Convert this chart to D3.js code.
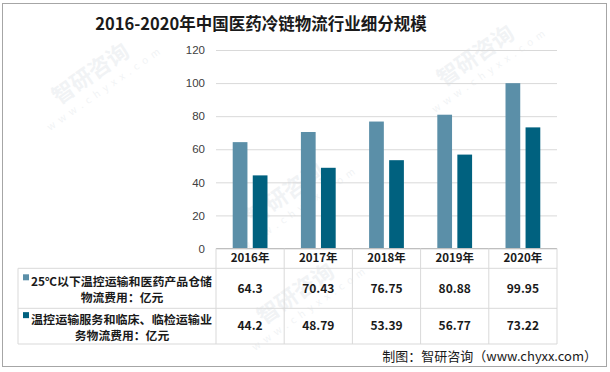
<!DOCTYPE html>
<html>
<head>
<meta charset="utf-8">
<script src="https://cdn.jsdelivr.net/npm/d3@7"></script>
<style>
  body { margin: 0; background: #fff; }
  text { font-family: "Noto Sans CJK SC", "Noto Sans", sans-serif; }
</style>
</head>
<body>
<div id="chart"></div>
<script>
// data
var years = ["2016年", "2017年", "2018年", "2019年", "2020年"];
var seriesNames = ["25℃以下温控运输和医药产品仓储物流费用：亿元", "温控运输服务和临床、临检运输业务物流费用：亿元"];
var storage = [64.3, 70.43, 76.75, 80.88, 99.95];
var transport = [44.2, 48.79, 53.39, 56.77, 73.22];
var valueLabels = [["64.3", "70.43", "76.75", "80.88", "99.95"], ["44.2", "48.79", "53.39", "56.77", "73.22"]];
var rowLines = [["25℃以下温控运输和医药产品仓储", "物流费用：亿元"], ["温控运输服务和临床、临检运输业", "务物流费用：亿元"]];
var yTicks = [0, 20, 40, 60, 80, 100, 120];

var colors = ["#5b8fa8", "#00617f"];
var svgWidth = 610, svgHeight = 372;

var plot = { left: 216, right: 557, top: 50, bottom: 248.5 };
var table = { left: 18, header: 268.3, row1: 308.3, bottom: 344 };

var svg = d3.select("#chart").append("svg")
    .attr("width", svgWidth)
    .attr("height", svgHeight);

// outer frame
svg.append("rect")
    .attr("x", 2.5).attr("y", 3.5)
    .attr("width", 604).attr("height", 363)
    .attr("fill", "#fff").attr("stroke", "#a6a6a6");

// faint watermarks
var marks = [[95, 80], [290, 200], [480, 62], [300, 300]];
marks.forEach(function(m) {
    var g = svg.append("g")
        .attr("transform", "translate(" + m[0] + "," + m[1] + ") rotate(-35)")
        .attr("opacity", 0.09);
    g.append("text").attr("x", 0).attr("y", 0)
        .attr("text-anchor", "middle")
        .attr("font-size", 22).attr("font-weight", "bold")
        .attr("fill", "#6a7f95").text("智研咨询");
    g.append("text").attr("x", 4).attr("y", 16)
        .attr("text-anchor", "middle")
        .attr("font-size", 10).attr("letter-spacing", 5)
        .attr("fill", "#6a7f95").text("www.chyxx.com");
});

// title
svg.append("text")
    .attr("x", 261).attr("y", 30)
    .attr("text-anchor", "middle")
    .attr("font-size", 16.5).attr("font-weight", "bold")
    .attr("fill", "#1a1a1a")
    .text("2016-2020年中国医药冷链物流行业细分规模");

var y = d3.scaleLinear().domain([0, 120]).range([plot.bottom, plot.top]);

var x0 = d3.scaleBand().domain(years)
    .range([plot.left, plot.right])
    .paddingInner(0.49).paddingOuter(0.245);

var x1 = d3.scaleBand().domain([0, 1])
    .range([0, x0.bandwidth()])
    .paddingInner(0.265);

// y axis with gridlines
var yAxis = svg.append("g")
    .attr("transform", "translate(" + plot.left + ",0)")
    .call(d3.axisLeft(y).tickValues(yTicks)
        .tickSize(-(plot.right - plot.left)).tickPadding(11));
yAxis.select(".domain").remove();
yAxis.selectAll(".tick line").attr("stroke", "#d9d9d9");
yAxis.selectAll(".tick text")
    .attr("font-size", 11.5).attr("fill", "#404040")
    .style("font-family", "'Liberation Sans', Arial, sans-serif");

// bars
var rows = years.map(function(yr, i) { return { year: yr, vals: [storage[i], transport[i]] }; });

var groups = svg.selectAll(".grp").data(rows).enter().append("g")
    .attr("class", "grp")
    .attr("transform", function(d) { return "translate(" + x0(d.year) + ",0)"; });

groups.selectAll("rect").data(function(d) { return d.vals; }).enter().append("rect")
    .attr("x", function(d, i) { return x1(i); })
    .attr("width", x1.bandwidth())
    .attr("y", function(d) { return y(d); })
    .attr("height", function(d) { return y(0) - y(d); })
    .attr("fill", function(d, i) { return colors[i]; });

// data table
var step = x0.step();
var colEdges = d3.range(years.length + 1).map(function(i) { return plot.left + i * step; });
var lineColor = "#d9d9d9";

function hline(x1_, x2_, yy, c) {
    svg.append("line").attr("x1", x1_).attr("x2", x2_)
        .attr("y1", yy).attr("y2", yy).attr("stroke", c || lineColor);
}
function vline(xx, y1_, y2_) {
    svg.append("line").attr("x1", xx).attr("x2", xx)
        .attr("y1", y1_).attr("y2", y2_).attr("stroke", lineColor);
}

hline(plot.left, plot.right, plot.bottom, "#bfbfbf");
hline(table.left, plot.right, table.header);
hline(table.left, plot.right, table.row1);
hline(table.left, plot.right, table.bottom);
colEdges.forEach(function(xx) { vline(xx, plot.bottom, table.bottom); });
vline(table.left, table.header, table.bottom);

// header years
svg.selectAll(".hdr").data(years).enter().append("text")
    .attr("x", function(d) { return x0(d) + x0.bandwidth() / 2; })
    .attr("y", (plot.bottom + table.header) / 2)
    .attr("dy", "0.35em")
    .attr("text-anchor", "middle")
    .attr("font-size", 11.5).attr("font-weight", "bold")
    .attr("fill", "#1a1a1a")
    .text(function(d) { return d; });

// values
var rowTops = [table.header, table.row1];
var rowBots = [table.row1, table.bottom];
valueLabels.forEach(function(vals, r) {
    svg.selectAll(".val" + r).data(vals).enter().append("text")
        .attr("x", function(d, i) { return x0(years[i]) + x0.bandwidth() / 2; })
        .attr("y", (rowTops[r] + rowBots[r]) / 2)
        .attr("dy", "0.35em")
        .attr("text-anchor", "middle")
        .attr("font-size", 12).attr("font-weight", "bold")
        .attr("fill", "#1a1a1a")
        .text(function(d) { return d; });
});

// row labels with legend keys
rowLines.forEach(function(lines, r) {
    var mid = (rowTops[r] + rowBots[r]) / 2;
    svg.append("rect")
        .attr("x", 23).attr("y", mid - 14)
        .attr("width", 6).attr("height", 6)
        .attr("fill", colors[r]);
    svg.append("text")
        .attr("x", 31).attr("y", mid - 2)
        .attr("font-size", 11.8).attr("font-weight", "bold")
        .attr("fill", "#1a1a1a")
        .attr("textLength", 181).attr("lengthAdjust", "spacingAndGlyphs")
        .text(lines[0]);
    svg.append("text")
        .attr("x", 122).attr("y", mid + 14)
        .attr("text-anchor", "middle")
        .attr("font-size", 11.8).attr("font-weight", "bold")
        .attr("fill", "#1a1a1a")
        .text(lines[1]);
});

// source note
svg.append("text")
    .attr("x", 597).attr("y", 361)
    .attr("text-anchor", "end")
    .attr("font-size", 13).attr("fill", "#1a1a1a")
    .text("制图：智研咨询（www.chyxx.com）");
</script>
</body>
</html>
